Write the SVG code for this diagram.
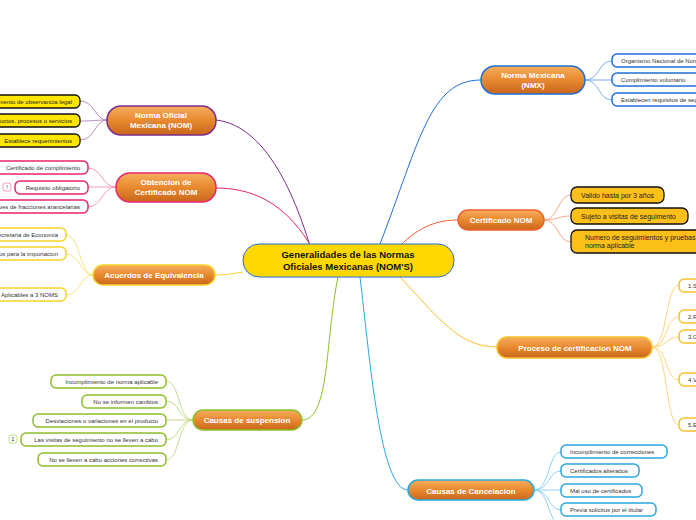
<svg xmlns="http://www.w3.org/2000/svg" width="696" height="520" viewBox="0 0 696 520">
<defs>
<linearGradient id="og" x1="0" y1="0" x2="0" y2="1"><stop offset="0" stop-color="#F6AE5E"/><stop offset="0.5" stop-color="#E8892F"/><stop offset="1" stop-color="#C9661B"/></linearGradient>
<style>
text{font-family:"Liberation Sans",Arial,sans-serif}
.mt{fill:#fff;font-weight:bold;font-size:8px;text-anchor:middle}
.lt{fill:#333;font-size:6px}
.yt{fill:#222;font-size:7px}
.leaf{fill:#fff;stroke-width:1.5}
.c{fill:none;stroke-width:1}
</style>
</defs>
<rect width="696" height="520" fill="#fff"/>
<g id="connectors">
<path class="c" stroke="#7B2D8E" d="M310 246 C290 180 260 125 216 120"/>
<path class="c" stroke="#E8266E" d="M312 248 C290 210 260 188 216 188"/>
<path class="c" stroke="#F5D327" d="M243 272 C230 274 225 275 215 275"/>
<path class="c" stroke="#8DBF2B" d="M338 277 C325 340 330 420 302 420"/>
<path class="c" stroke="#1F6FD6" d="M380 244 C420 140 430 80 481 80"/>
<path class="c" stroke="#F0602A" d="M400 246 C420 225 440 220 458 220"/>
<path class="c" stroke="#F8C02A" d="M400 277 C440 320 460 347 497 347"/>
<path class="c" stroke="#29A8E0" d="M360 277 C370 360 380 490 408 490"/>
<g stroke="#B98CC4" class="c"><path d="M107 120 C95 120 95 101 80 101"/><path d="M107 120 C95 120 95 121 80 121"/><path d="M107 120 C95 120 95 140 80 140"/></g>
<g stroke="#F29BBE" class="c"><path d="M116 187 C102 187 102 168 88 168"/><path d="M116 187 L88 187"/><path d="M116 187 C102 187 102 207 88 207"/></g>
<g stroke="#F7E57D" class="c"><path d="M93 275 C80 275 80 235 66 235"/><path d="M93 275 C80 275 80 254 66 254"/><path d="M93 275 C80 275 80 295 66 295"/></g>
<g stroke="#C3DD8B" class="c"><path d="M193 420 C178 420 180 381 166 381"/><path d="M193 420 C178 420 180 401 166 401"/><path d="M193 420 L166 420"/><path d="M193 420 C178 420 180 440 166 440"/><path d="M193 420 C178 420 180 460 166 460"/></g>
<g stroke="#7FAEEB" class="c"><path d="M585 80 C600 80 598 61 612 61"/><path d="M585 80 L612 80"/><path d="M585 80 C600 80 598 100 612 100"/></g>
<g stroke="#F6A88A" class="c"><path d="M544 220 C558 220 558 195 571 195"/><path d="M544 220 C558 220 558 216 571 216"/><path d="M544 220 C558 220 558 242 571 242"/></g>
<g stroke="#FBD77E" class="c"><path d="M652 347 C668 347 665 285 679 285"/><path d="M652 347 C668 347 665 317 679 317"/><path d="M652 347 C668 347 665 337 679 337"/><path d="M652 347 C668 347 665 380 679 380"/><path d="M652 347 C668 347 665 425 679 425"/></g>
<g stroke="#8FD3F0" class="c"><path d="M534 490 C550 490 548 452 561 452"/><path d="M534 490 C550 490 548 471 561 471"/><path d="M534 490 L561 490"/><path d="M534 490 C550 490 548 510 561 510"/><path d="M534 490 C550 490 548 525 561 525"/></g>
</g>
<g id="center"><rect x="243" y="244" width="211" height="33" rx="16" fill="#FFD800" stroke="#1F6FD6" stroke-width="1"/><text x="348" y="258" text-anchor="middle" font-weight="bold" font-size="9.5" fill="#111">Generalidades de las Normas</text><text x="348" y="270" text-anchor="middle" font-weight="bold" font-size="9.5" fill="#111">Oficiales Mexicanas (NOM'S)</text></g>
<g id="nom"><rect x="107" y="106" width="109" height="29" rx="14" fill="url(#og)" stroke="#7B2D8E" stroke-width="1.5"/><text class="mt" x="161" y="118">Norma Oficial</text><text class="mt" x="161" y="128">Mexicana (NOM)</text></g>
<g id="nom-leaves" class="yt">
<rect x="-20" y="95" width="100" height="13" rx="5" fill="#FFE600" stroke="#111" stroke-width="1.3"/><text x="72" y="103.5" text-anchor="end" font-size="6">Documento de observancia legal</text>
<rect x="-20" y="114" width="100" height="13" rx="5" fill="#FFE600" stroke="#111" stroke-width="1.3"/><text x="72" y="122.5" text-anchor="end" font-size="6">Regula productos, procesos o servicios</text>
<rect x="-6" y="134" width="86" height="13" rx="5" fill="#FFE600" stroke="#111" stroke-width="1.3"/><text x="72" y="142.5" text-anchor="end" font-size="6">Establece requerimientos</text>
</g>
<g id="obtencion"><rect x="116" y="173" width="100" height="29" rx="14" fill="url(#og)" stroke="#E8266E" stroke-width="1.5"/><text class="mt" x="166" y="185">Obtencion de</text><text class="mt" x="166" y="195">Certificado NOM</text></g>
<g id="obt-leaves">
<rect class="leaf" stroke="#E8266E" x="-10" y="161" width="98" height="13" rx="5"/><text class="lt" x="80" y="169.5" text-anchor="end">Certificado de cumplimiento</text>
<rect class="leaf" stroke="#E8266E" x="15" y="181" width="73" height="13" rx="5"/><text class="lt" x="80" y="189.5" text-anchor="end">Requisito obligatorio</text>
<rect x="3" y="183" width="8" height="8" rx="2" fill="#fff" stroke="#F29BBE"/><text class="lt" x="7" y="189" text-anchor="middle">!</text>
<rect class="leaf" stroke="#E8266E" x="-20" y="200" width="108" height="13" rx="5"/><text class="lt" x="80" y="208.5" text-anchor="end">Claves de fracciones arancelarias</text>
</g>
<g id="acuerdos"><rect x="93" y="265" width="122" height="20" rx="10" fill="url(#og)" stroke="#F5D327" stroke-width="1.5"/><text class="mt" x="154" y="278">Acuerdos de Equivalencia</text></g>
<g id="acu-leaves">
<rect class="leaf" stroke="#F5D327" x="-20" y="228" width="86" height="13" rx="5"/><text class="lt" x="58" y="236.5" text-anchor="end">Secretaria de Economia</text>
<rect class="leaf" stroke="#F5D327" x="-20" y="247" width="86" height="13" rx="5"/><text class="lt" x="58" y="255.5" text-anchor="end">Requisitos para la importacion</text>
<rect class="leaf" stroke="#F5D327" x="-20" y="288" width="86" height="13" rx="5"/><text class="lt" x="58" y="296.5" text-anchor="end">Aplicables a 3 NOMS</text>
</g>
<g id="suspension"><rect x="193" y="410" width="109" height="20" rx="10" fill="url(#og)" stroke="#8DBF2B" stroke-width="1.5"/><text class="mt" x="247" y="423">Causas de suspension</text></g>
<g id="sus-leaves">
<rect class="leaf" stroke="#8DBF2B" x="51" y="375" width="115" height="13" rx="5"/><text class="lt" x="158" y="383.5" text-anchor="end">Incumplimiento de norma aplicable</text>
<rect class="leaf" stroke="#8DBF2B" x="82" y="395" width="84" height="13" rx="5"/><text class="lt" x="158" y="403.5" text-anchor="end">No se informen cambios</text>
<rect class="leaf" stroke="#8DBF2B" x="33" y="414" width="133" height="13" rx="5"/><text class="lt" x="158" y="422.5" text-anchor="end">Desviaciones o variaciones en el producto</text>
<rect class="leaf" stroke="#8DBF2B" x="21" y="433" width="145" height="13" rx="5"/><text class="lt" x="158" y="441.5" text-anchor="end">Las visitas de seguimiento no se lleven a cabo</text>
<rect x="9" y="435" width="8" height="8" rx="2" fill="#fff" stroke="#C3DD8B"/><text class="lt" x="13" y="441" text-anchor="middle">1</text>
<rect class="leaf" stroke="#8DBF2B" x="38" y="453" width="128" height="13" rx="5"/><text class="lt" x="158" y="461.5" text-anchor="end">No se lleven a cabo acciones correctivas</text>
</g>
<g id="nmx"><rect x="481" y="66" width="104" height="28" rx="14" fill="url(#og)" stroke="#1F6FD6" stroke-width="1.5"/><text class="mt" x="533" y="78">Norma Mexicana</text><text class="mt" x="533" y="88">(NMX)</text></g>
<g id="nmx-leaves">
<rect class="leaf" stroke="#1F6FD6" x="612" y="54" width="100" height="13" rx="5"/><text class="lt" x="621" y="62.5">Organismo Nacional de Normalizacion</text>
<rect class="leaf" stroke="#1F6FD6" x="612" y="73" width="100" height="13" rx="5"/><text class="lt" x="621" y="81.5">Cumplimiento voluntario</text>
<rect class="leaf" stroke="#1F6FD6" x="612" y="93" width="100" height="13" rx="5"/><text class="lt" x="621" y="101.5">Establecen requisitos de seguridad</text>
</g>
<g id="certificado"><rect x="458" y="210" width="86" height="20" rx="10" fill="url(#og)" stroke="#F0602A" stroke-width="1.5"/><text class="mt" x="501" y="223">Certificado NOM</text></g>
<g id="cert-leaves" class="yt">
<rect x="571" y="187" width="93" height="16" rx="6" fill="#FDBF1A" stroke="#111" stroke-width="1.3"/><text x="581" y="197.5">Valido hasta por 3 años</text>
<rect x="571" y="208" width="117" height="16" rx="6" fill="#FDBF1A" stroke="#111" stroke-width="1.3"/><text x="581" y="218.5">Sujeto a visitas de seguimento</text>
<rect x="571" y="230" width="140" height="23" rx="6" fill="#FDBF1A" stroke="#111" stroke-width="1.3"/><text x="585" y="239.5">Numero de seguimientos y pruebas de</text><text x="585" y="248">norma aplicable</text>
</g>
<g id="proceso"><rect x="497" y="337" width="155" height="21" rx="10" fill="url(#og)" stroke="#F8C02A" stroke-width="1.5"/><text class="mt" x="575" y="351" font-size="9">Proceso de certificacion NOM</text></g>
<g id="proc-leaves">
<rect class="leaf" stroke="#F8C02A" x="679" y="279" width="40" height="13" rx="5"/><text class="lt" x="688" y="287.5">1.Solicitud</text>
<rect class="leaf" stroke="#F8C02A" x="679" y="310" width="40" height="13" rx="5"/><text class="lt" x="688" y="318.5">2.Revision</text>
<rect class="leaf" stroke="#F8C02A" x="679" y="330" width="40" height="13" rx="5"/><text class="lt" x="688" y="338.5">3.Certificacion</text>
<rect class="leaf" stroke="#F8C02A" x="679" y="373" width="40" height="13" rx="5"/><text class="lt" x="688" y="381.5">4.Visitas</text>
<rect class="leaf" stroke="#F8C02A" x="679" y="418" width="40" height="13" rx="5"/><text class="lt" x="688" y="426.5">5.Emision</text>
</g>
<g id="cancelacion"><rect x="408" y="480" width="126" height="20" rx="10" fill="url(#og)" stroke="#29A8E0" stroke-width="1.5"/><text class="mt" x="471" y="494" font-size="9">Causas de Cancelacion</text></g>
<g id="can-leaves">
<rect class="leaf" stroke="#29A8E0" x="561" y="445" width="106" height="13" rx="5"/><text class="lt" x="570" y="453.5">Incumplimiento de correcciones</text>
<rect class="leaf" stroke="#29A8E0" x="561" y="464" width="78" height="13" rx="5"/><text class="lt" x="570" y="472.5">Certificados alterados</text>
<rect class="leaf" stroke="#29A8E0" x="561" y="484" width="81" height="13" rx="5"/><text class="lt" x="570" y="492.5">Mal uso de certificados</text>
<rect class="leaf" stroke="#29A8E0" x="561" y="503" width="95" height="13" rx="5"/><text class="lt" x="570" y="511.5">Previa solicitus por el titular</text>
</g>
</svg>
